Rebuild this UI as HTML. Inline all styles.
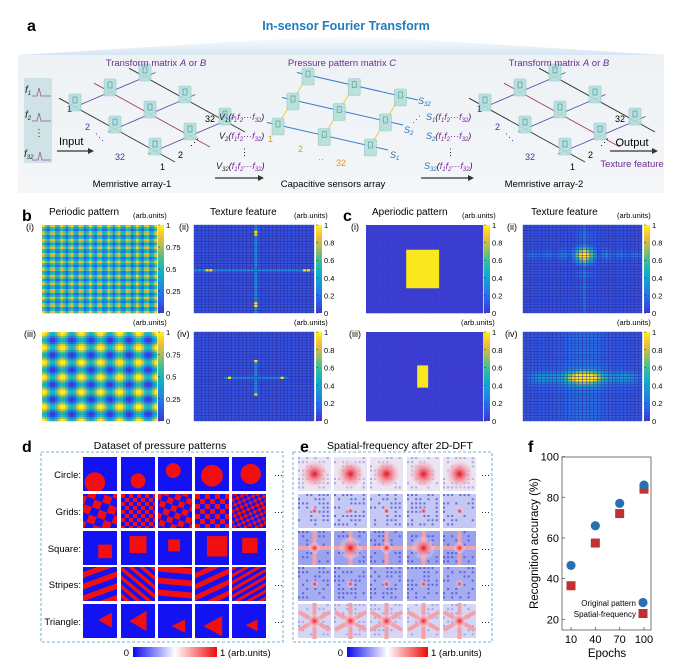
<!DOCTYPE html>
<html><head><meta charset="utf-8"><style>
html,body{margin:0;padding:0;background:#fff;}
svg{display:block;font-family:"Liberation Sans",Arial,sans-serif;}
</style></head><body>
<svg id="fig" width="683" height="669" viewBox="0 0 683 669" xmlns="http://www.w3.org/2000/svg">
<defs>
<linearGradient id="gbox" x1="0" y1="0" x2="0" y2="1"><stop offset="0" stop-color="#eef2f5"/><stop offset="1" stop-color="#f4f6f8"/></linearGradient>
<linearGradient id="gtri" x1="0" y1="0" x2="0" y2="1"><stop offset="0" stop-color="#ffffff"/><stop offset="1" stop-color="#d6e6f2"/></linearGradient>
<linearGradient id="parV" x1="0" y1="1" x2="0" y2="0">
<stop offset="0" stop-color="rgb(62,55,205)"/><stop offset="0.15" stop-color="rgb(40,100,235)"/><stop offset="0.3" stop-color="rgb(30,140,220)"/><stop offset="0.45" stop-color="rgb(15,175,200)"/><stop offset="0.6" stop-color="rgb(60,190,150)"/><stop offset="0.75" stop-color="rgb(170,190,90)"/><stop offset="0.87" stop-color="rgb(245,190,55)"/><stop offset="1" stop-color="rgb(250,245,20)"/>
</linearGradient>
<linearGradient id="bwr" x1="0" y1="0" x2="1" y2="0"><stop offset="0" stop-color="#0a0af0"/><stop offset="0.5" stop-color="#ffffff"/><stop offset="1" stop-color="#f00a0a"/></linearGradient>
<radialGradient id="redc"><stop offset="0" stop-color="#e8101a"/><stop offset="0.25" stop-color="#f06070" stop-opacity="0.9"/><stop offset="0.7" stop-color="#f8c0c8" stop-opacity="0.5"/><stop offset="1" stop-color="#ffffff" stop-opacity="0"/></radialGradient>
</defs>

<!-- Panel a -->
<g>
<text x="27" y="31" font-size="16" font-weight="bold">a</text>
<polygon points="346,35 18,55 664,55" fill="url(#gtri)"/>
<text x="346" y="30" font-size="12.5" font-weight="bold" fill="#1f7cc0" text-anchor="middle">In-sensor Fourier Transform</text>
<rect x="18" y="55" width="646" height="138" fill="url(#gbox)"/>
<rect x="24" y="78" width="28" height="85" fill="#cfe3e6"/>
<g font-size="10" font-style="italic" fill="#222">
<text x="25" y="93">f<tspan font-size="6" dy="2">1</tspan></text>
<text x="25" y="118">f<tspan font-size="6" dy="2">2</tspan></text>
<text x="34" y="136" font-style="normal">⋮</text>
<text x="24" y="157">f<tspan font-size="6" dy="2">32</tspan></text>
</g>
<g stroke="#8a5a9a" fill="none" stroke-width="0.8">
<path d="M32,96 h5 l2,-8 l2,8 h10"/><path d="M32,121 h5 l2,-8 l2,8 h10"/><path d="M32,160 h6 l2,-8 l2,8 h9"/>
</g>
<text x="59" y="145" font-size="11">Input</text>
<line x1="57" y1="151" x2="90" y2="151" stroke="#333" stroke-width="1.2"/><polygon points="94,151 88,148 88,154" fill="#333"/>
<g id="arrays"></g>
<text x="156" y="66" font-size="9.5" fill="#6a2c91" text-anchor="middle">Transform matrix <tspan font-style="italic">A</tspan> or <tspan font-style="italic">B</tspan></text>
<text x="342" y="66" font-size="9.5" fill="#6a2c91" text-anchor="middle">Pressure pattern matrix <tspan font-style="italic">C</tspan></text>
<text x="559" y="66" font-size="9.5" fill="#6a2c91" text-anchor="middle">Transform matrix <tspan font-style="italic">A</tspan> or <tspan font-style="italic">B</tspan></text>
<text x="132" y="187" font-size="9.5" text-anchor="middle">Memristive array-1</text>
<text x="333" y="187" font-size="9.5" text-anchor="middle">Capacitive sensors array</text>
<text x="544" y="187" font-size="9.5" text-anchor="middle">Memristive array-2</text>
<g font-size="9" font-style="italic" fill="#222">
<text x="219" y="120">V<tspan font-size="6" dy="2">1</tspan><tspan dy="-2">(</tspan><tspan fill="#7a2a9a">f</tspan><tspan fill="#7a2a9a" font-size="6" dy="2">1</tspan><tspan fill="#7a2a9a" dy="-2">f</tspan><tspan fill="#7a2a9a" font-size="6" dy="2">2</tspan><tspan fill="#7a2a9a" dy="-2">···f</tspan><tspan fill="#7a2a9a" font-size="6" dy="2">32</tspan><tspan dy="-2">)</tspan></text>
<text x="219" y="139">V<tspan font-size="6" dy="2">2</tspan><tspan dy="-2">(</tspan><tspan fill="#7a2a9a">f</tspan><tspan fill="#7a2a9a" font-size="6" dy="2">1</tspan><tspan fill="#7a2a9a" dy="-2">f</tspan><tspan fill="#7a2a9a" font-size="6" dy="2">2</tspan><tspan fill="#7a2a9a" dy="-2">···f</tspan><tspan fill="#7a2a9a" font-size="6" dy="2">32</tspan><tspan dy="-2">)</tspan></text>
<text x="240" y="155" font-style="normal">⋮</text>
<text x="216" y="169">V<tspan font-size="6" dy="2">32</tspan><tspan dy="-2">(</tspan><tspan fill="#7a2a9a">f</tspan><tspan fill="#7a2a9a" font-size="6" dy="2">1</tspan><tspan fill="#7a2a9a" dy="-2">f</tspan><tspan fill="#7a2a9a" font-size="6" dy="2">2</tspan><tspan fill="#7a2a9a" dy="-2">···f</tspan><tspan fill="#7a2a9a" font-size="6" dy="2">32</tspan><tspan dy="-2">)</tspan></text>
<g fill="#1f6fb5">
<text x="426" y="120">S<tspan font-size="6" dy="2">1</tspan><tspan dy="-2" fill="#222">(</tspan><tspan fill="#7a2a9a">f</tspan><tspan fill="#7a2a9a" font-size="6" dy="2">1</tspan><tspan fill="#7a2a9a" dy="-2">f</tspan><tspan fill="#7a2a9a" font-size="6" dy="2">2</tspan><tspan fill="#7a2a9a" dy="-2">···f</tspan><tspan fill="#7a2a9a" font-size="6" dy="2">32</tspan><tspan dy="-2" fill="#222">)</tspan></text>
<text x="426" y="139">S<tspan font-size="6" dy="2">2</tspan><tspan dy="-2" fill="#222">(</tspan><tspan fill="#7a2a9a">f</tspan><tspan fill="#7a2a9a" font-size="6" dy="2">1</tspan><tspan fill="#7a2a9a" dy="-2">f</tspan><tspan fill="#7a2a9a" font-size="6" dy="2">2</tspan><tspan fill="#7a2a9a" dy="-2">···f</tspan><tspan fill="#7a2a9a" font-size="6" dy="2">32</tspan><tspan dy="-2" fill="#222">)</tspan></text>
<text x="446" y="155" font-style="normal" fill="#222">⋮</text>
<text x="424" y="169">S<tspan font-size="6" dy="2">32</tspan><tspan dy="-2" fill="#222">(</tspan><tspan fill="#7a2a9a">f</tspan><tspan fill="#7a2a9a" font-size="6" dy="2">1</tspan><tspan fill="#7a2a9a" dy="-2">f</tspan><tspan fill="#7a2a9a" font-size="6" dy="2">2</tspan><tspan fill="#7a2a9a" dy="-2">···f</tspan><tspan fill="#7a2a9a" font-size="6" dy="2">32</tspan><tspan dy="-2" fill="#222">)</tspan></text>
</g>
</g>
<line x1="215" y1="178" x2="259" y2="178" stroke="#333" stroke-width="1.2"/><polygon points="264,178 258,175 258,181" fill="#333"/>
<line x1="421" y1="178" x2="469" y2="178" stroke="#333" stroke-width="1.2"/><polygon points="474,178 468,175 468,181" fill="#333"/>
<text x="632" y="146" font-size="11" text-anchor="middle">Output</text>
<line x1="610" y1="151" x2="652" y2="151" stroke="#333" stroke-width="1.2"/><polygon points="658,151 652,148 652,154" fill="#333"/>
<text x="632" y="167" font-size="9.5" fill="#6a2c91" text-anchor="middle">Texture feature</text>
</g>

<!-- Panel b/c -->
<g id="bc"></g>

<!-- Panel d/e -->
<g id="de"></g>

<!-- Panel f -->
<g id="pf"></g>
</svg>
<script>
// ---- Panel f data ----
const epochs = [10, 40, 70, 100];
const originalAcc = [46.5, 66, 77, 86];
const spatialAcc = [36.5, 57.5, 72, 84];
const yTicks = [20, 40, 60, 80, 100];
const xTickLabels = ['10', '40', '70', '100'];

const NS = 'http://www.w3.org/2000/svg';
function mk(tag, attrs, parent) {
  const e = document.createElementNS(NS, tag);
  for (const k in attrs) e.setAttribute(k, attrs[k]);
  if (parent) parent.appendChild(e);
  return e;
}
function txt(parent, x, y, s, size, anchor, extra) {
  const t = mk('text', Object.assign({x: x, y: y, 'font-size': size, 'text-anchor': anchor || 'start'}, extra || {}), parent);
  t.textContent = s;
  return t;
}

// ---- colormap ----
const stops = [[0,62,55,205],[0.15,40,100,235],[0.3,30,140,220],[0.45,15,175,200],[0.6,60,190,150],[0.75,170,190,90],[0.87,245,190,55],[1,250,245,20]];
function parula(v) {
  v = Math.max(0, Math.min(1, v));
  for (let i = 1; i < stops.length; i++) {
    if (v <= stops[i][0]) {
      const a = stops[i-1], b = stops[i], t = (v - a[0]) / (b[0] - a[0]);
      return 'rgb(' + Math.round(a[1]+(b[1]-a[1])*t) + ',' + Math.round(a[2]+(b[2]-a[2])*t) + ',' + Math.round(a[3]+(b[3]-a[3])*t) + ')';
    }
  }
  return 'rgb(250,245,20)';
}

// ---- heatmaps ----
const bc = document.getElementById('bc');
function heatmap(name, x, y, w, h, n, fn, grid) {
  const g = mk('g', {}, bc);
  
  
  const cw = w / n, ch = h / n;
  for (let i = 0; i < n; i++) for (let j = 0; j < n; j++) {
    const r = mk('rect', {x: (x + i*cw).toFixed(2), y: (y + j*ch).toFixed(2), width: (cw + (grid ? 0 : 0.3)).toFixed(2), height: (ch + (grid ? 0 : 0.3)).toFixed(2), fill: parula(fn(i, j, n))}, g);
    if (grid) { r.setAttribute('stroke', 'rgb(40,40,150)'); r.setAttribute('stroke-width', '0.35'); }
  }
  return g;
}
function colorbar(name, x, y, h, ticks) {
  const g = mk('g', {}, bc);
  
  
  mk('rect', {x: x, y: y, width: 6, height: h, fill: 'url(#parV)'}, g);
  ticks.forEach(t => {
    const ty = y + h - t * h;
    mk('line', {x1: x, x2: x + 2, y1: ty, y2: ty, stroke: '#333', 'stroke-width': 0.5}, g);
    txt(g, x + 8, ty + 3, String(t), 7.5);
  });
}
function label(s, x, y, size, extra) { const t = txt(bc, x, y, s, size, 'start', extra); return t; }

const bTicks = [0, 0.25, 0.5, 0.75, 1];
const cTicks = [0, 0.2, 0.4, 0.6, 0.8, 1];

let t;
t = label('b', 22, 221, 16, {'font-weight': 'bold'});  
t = label('Periodic pattern', 49, 215, 10);  
t = label('Texture feature', 210, 215, 10);  
t = label('c', 343, 221, 16, {'font-weight': 'bold'});  
t = label('Aperiodic pattern', 372, 215, 10);  
t = label('Texture feature', 531, 215, 10);  
[['(arb.units)',133,218],['(arb.units)',294,218],['(arb.units)',133,325],['(arb.units)',294,325],['(arb.units)',462,218],['(arb.units)',617,218],['(arb.units)',461,325],['(arb.units)',617,325]].forEach(a => { const e = label(a[0], a[1], a[2], 7.5);   });
[['(i)',26,230],['(ii)',179,230],['(iii)',24,337],['(iv)',177,337],['(i)',351,230],['(ii)',507,230],['(iii)',349,337],['(iv)',505,337]].forEach(a => { const e = label(a[0], a[1], a[2], 9);   });

const B1 = [42, 225, 115, 88], B2 = [194, 225, 120, 88];
const B3 = [42, 332, 115, 89], B4 = [194, 332, 120, 89];
const C1 = [366, 225, 117, 88], C2 = [523, 225, 119, 88];
const C3 = [366, 332, 117, 89], C4 = [523, 332, 119, 89];

heatmap('periodic-pattern-i', B1[0], B1[1], B1[2], B1[3], 44, (i, j) => {
  const a = 0.5 + 0.5 * Math.cos(2 * Math.PI * i / 3.6), b = 0.5 + 0.5 * Math.cos(2 * Math.PI * j / 3.6);
  return 0.08 + 0.85 * (a * 0.5 + b * 0.5);
}, false);
heatmap('texture-feature-ii', B2[0], B2[1], B2[2], B2[3], 32, (i, j) => {
  let v = 0.08;
  if (i === 16 || j === 16) v = 0.3;
  if (i === 16 && (j === 2 || j === 3 || j === 28 || j === 29)) v = 0.95;
  if (j === 16 && (i === 3 || i === 4 || i === 29 || i === 30)) v = 0.95;
  return v;
}, true);
heatmap('periodic-pattern-iii', B3[0], B3[1], B3[2], B3[3], 44, (i, j) => {
  const a = Math.cos(2 * Math.PI * i / 7.3), b = Math.cos(2 * Math.PI * j / 7.3);
  return 0.5 + 0.28 * (a + b);
}, false);
heatmap('texture-feature-iv', B4[0], B4[1], B4[2], B4[3], 32, (i, j) => {
  let v = 0.08;
  if (i === 16 && j > 9 && j < 23) v = 0.3;
  if (j === 16 && i > 7 && i < 25) v = 0.25;
  if (i === 16 && (j === 10 || j === 22)) v = 0.95;
  if (j === 16 && (i === 9 || i === 23)) v = 0.95;
  return v;
}, true);
heatmap('aperiodic-pattern-i', C1[0], C1[1], C1[2], C1[3], 32, (i, j) => (i >= 11 && i <= 19 && j >= 9 && j <= 22) ? 0.97 : 0.02, false);
heatmap('texture-feature-c-ii', C2[0], C2[1], C2[2], C2[3], 32, (i, j) => {
  const dx = (i - 16), dy = (j - 10.5);
  let v = 0.08;
  const sx = Math.abs(Math.sin(dx * 0.8 + 1e-6) / (dx * 0.8 + 1e-6)), sy = Math.abs(Math.sin(dy * 0.65 + 1e-6) / (dy * 0.65 + 1e-6));
  v += 0.9 * Math.pow(sx * sy, 1.4);
  if (Math.abs(dy) < 1) v += 0.12 * (1 - Math.abs(Math.cos(dx * 0.8)) * 0.5);
  if (Math.abs(dx) < 1) v += 0.1;
  return v;
}, true);
heatmap('aperiodic-pattern-iii', C3[0], C3[1], C3[2], C3[3], 32, (i, j) => (i >= 14 && i <= 16 && j >= 12 && j <= 19) ? 0.97 : 0.02, false);
heatmap('texture-feature-c-iv', C4[0], C4[1], C4[2], C4[3], 32, (i, j) => {
  const dx = (i - 16) / 5.5, dy = (j - 16) / 2.2;
  let v = 0.1 + 0.85 * Math.exp(-(dx * dx + dy * dy) / 1.2);
  v += 0.25 * Math.exp(-dy * dy) * (0.5 + 0.5 * Math.cos((i - 16) * 0.55));
  v += 0.1 * Math.exp(-((i - 16) * (i - 16)) / 30);
  return Math.min(v, 0.97);
}, true);
colorbar('colorbar-b-i', 158, 225, 88, bTicks);
colorbar('colorbar-b-ii', 316, 225, 88, cTicks);
colorbar('colorbar-b-iii', 158, 332, 89, bTicks);
colorbar('colorbar-b-iv', 316, 332, 89, cTicks);
colorbar('colorbar-c-i', 484, 225, 88, cTicks);
colorbar('colorbar-c-ii', 644, 225, 88, cTicks);
colorbar('colorbar-c-iii', 484, 332, 89, cTicks);
colorbar('colorbar-c-iv', 644, 332, 89, cTicks);

// ---- arrays in panel a ----
const arr = document.getElementById('arrays');
function cube(x, y, g, icon) {
  mk('rect', {x: x - 6, y: y - 9, width: 12, height: 17, rx: 1.5, fill: '#b5e0dc', stroke: '#8cc4c0', 'stroke-width': 0.6, opacity: 0.9}, g);
  mk('rect', {x: x - 2, y: y - 6, width: 4, height: 6, fill: 'none', stroke: icon, 'stroke-width': 0.6}, g);
}
function crossbar(name, ox, oy, rowColor, colColors, cubeIcon) {
  const g = mk('g', {}, arr);
  
  
  const P = (u, v) => [ox + u * 70 + v * 40, oy - u * 30 + v * 22];
  for (let v = 0; v < 3; v++) { const a = P(-0.1, v), b = P(1.15, v); mk('line', {x1: a[0], y1: a[1], x2: b[0], y2: b[1], stroke: rowColor, 'stroke-width': 0.9}, g); }
  for (let u = 0; u < 3; u++) { const a = P(u * 0.5, -0.4), b = P(u * 0.5, 2.5); mk('line', {x1: a[0], y1: a[1], x2: b[0], y2: b[1], stroke: colColors[u], 'stroke-width': 0.9}, g); }
  for (let v = 0; v < 3; v++) for (let u = 0; u < 3; u++) { const p = P(u * 0.5, v); cube(p[0], p[1] - 4, g, cubeIcon); }
  return g;
}
const g1 = crossbar('memristive-array-1', 75, 107, '#5a4fb0', ['#333', '#a04060', '#333'], '#3a8aa8');
const g2 = crossbar('memristive-array-2', 485, 107, '#5a4fb0', ['#333', '#a04060', '#333'], '#3a8aa8');
[[g1, 75], [g2, 485]].forEach(p => {
  const g = p[0], ox = p[1];
  txt(g, ox - 8, 112, '1', 9, 'start', {fill: '#3a3a9a'});
  txt(g, ox + 10, 130, '2', 9, 'start', {fill: '#3a3a9a'});
  txt(g, ox + 40, 160, '32', 9, 'start', {fill: '#3a3a9a'});
  txt(g, ox + 20, 140, '⋱', 9, 'start', {fill: '#3a3a9a'});
  txt(g, ox + 130, 122, '32', 9);
  txt(g, ox + 103, 158, '2', 9);
  txt(g, ox + 85, 170, '1', 9);
  txt(g, ox + 115, 145, '⋰', 9);
});
(function () {
  const g = mk('g', {}, arr);
  
  
  const P = (u, v) => [278 + u * 110 + v * 15, 125 + u * 25 - v * 25];
  for (let v = 0; v < 3; v++) { const a = P(-0.1, v), b = P(1.0, v); mk('line', {x1: a[0], y1: a[1], x2: b[0], y2: b[1], stroke: '#3a7ccc', 'stroke-width': 1}, g); }
  for (let u = 0; u < 3; u++) { const a = P(u * 0.42, -0.4), b = P(u * 0.42, 2.2); mk('line', {x1: a[0], y1: a[1], x2: b[0], y2: b[1], stroke: '#e8d020', 'stroke-width': 0.9}, g); }
  for (let v = 0; v < 3; v++) for (let u = 0; u < 3; u++) { const p = P(u * 0.42, v); cube(p[0], p[1] + 2, g, '#4a9a8a'); }
  const s1 = txt(g, 390, 158, 'S', 9, 'start', {fill: '#1f6fb5', 'font-style': 'italic'}); mk('tspan', {'font-size': 6, dy: 2}, s1).textContent = '1';
  const s2 = txt(g, 404, 133, 'S', 9, 'start', {fill: '#1f6fb5', 'font-style': 'italic'}); mk('tspan', {'font-size': 6, dy: 2}, s2).textContent = '2';
  const s3 = txt(g, 418, 104, 'S', 9, 'start', {fill: '#1f6fb5', 'font-style': 'italic'}); mk('tspan', {'font-size': 6, dy: 2}, s3).textContent = '32';
  txt(g, 412, 122, '⋰', 9, 'start', {fill: '#1f6fb5'});
  txt(g, 268, 142, '1', 9, 'start', {fill: '#e09a20'});
  txt(g, 298, 152, '2', 9, 'start', {fill: '#e09a20'});
  txt(g, 336, 166, '32', 9, 'start', {fill: '#e09a20'});
  txt(g, 318, 162, '··', 9, 'start', {fill: '#e09a20'});
})();

// ---- panels d & e ----
const de = document.getElementById('de');
const rowNames = ['Circle:', 'Grids:', 'Square:', 'Stripes:', 'Triangle:'];
const rowTops = [457, 494, 531, 567, 604];
const dCols = [83, 121, 158, 195, 232];
const eCols = [298, 334, 370, 407, 443];
const TS = 34;
t = txt(de, 22, 452, 'd', 16, 'start', {'font-weight': 'bold'});  
t = txt(de, 160, 449, 'Dataset of pressure patterns', 10.5, 'middle');  
t = txt(de, 300, 452, 'e', 16, 'start', {'font-weight': 'bold'});  
t = txt(de, 400, 449, 'Spatial-frequency after 2D-DFT', 10.5, 'middle');  
const boxD = mk('rect', {x: 41, y: 452, width: 242, height: 190, fill: 'none', stroke: '#4a9ac8', 'stroke-dasharray': '3,2', 'stroke-width': 0.8}, de);
 
const boxE = mk('rect', {x: 293, y: 452, width: 199, height: 190, fill: 'none', stroke: '#4a9ac8', 'stroke-dasharray': '3,2', 'stroke-width': 0.8}, de);
 

const circles = [[0.35, 0.75, 0.3], [0.5, 0.7, 0.22], [0.45, 0.4, 0.22], [0.5, 0.55, 0.32], [0.55, 0.5, 0.3]];
const squares = [[0.45, 0.4, 0.4], [0.25, 0.15, 0.5], [0.3, 0.25, 0.35], [0.35, 0.15, 0.6], [0.3, 0.2, 0.45]];
const tris = [[0.45, 0.25, 0.85, 0.7], [0.25, 0.2, 0.75, 0.8], [0.4, 0.45, 0.8, 0.85], [0.25, 0.35, 0.8, 0.95], [0.4, 0.45, 0.75, 0.8]];
const gridPer = [8, 4, 6, 5, 3.5];
const stripeAng = [-20, 40, 5, -25, -30];
const stripePer = [11, 7, 12, 10, 6];
rowNames.forEach((nm, r) => {
  const y = rowTops[r];
  const l = txt(de, 81, y + 21, nm, 9.5, 'end');  
  txt(de, 274, y + 21, '···', 9, 'start');
  txt(de, 481, y + 21, '···', 9, 'start');
  dCols.forEach((x, c) => {
    const g = mk('g', {}, de);
    
    
    const cp = mk('clipPath', {id: 'cd' + r + c}, g);
    mk('rect', {x: x, y: y, width: TS, height: TS}, cp);
    const inner = mk('g', {'clip-path': 'url(#cd' + r + c + ')'}, g);
    mk('rect', {x: x, y: y, width: TS, height: TS, fill: '#1212f2'}, inner);
    if (r === 0) { const p = circles[c]; mk('circle', {cx: x + p[0] * TS, cy: y + p[1] * TS, r: p[2] * TS, fill: '#f20f12'}, inner); }
    if (r === 1) { const s = gridPer[c];
      for (let i = -2; i * s < TS + s; i++) for (let j = -2; j * s < TS + s; j++) if ((i + j + 4) % 2 === 0) mk('rect', {x: x + i * s, y: y + j * s, width: s, height: s, fill: '#f20f12', transform: 'rotate(' + (c % 2 ? 0 : 20) + ' ' + (x + 17) + ' ' + (y + 17) + ')'}, inner);
    }
    if (r === 2) { const p = squares[c]; mk('rect', {x: x + p[0] * TS, y: y + p[1] * TS, width: p[2] * TS, height: p[2] * TS, fill: '#f20f12'}, inner); }
    if (r === 3) { const s = stripePer[c];
      for (let k = -6; k < 10; k++) mk('rect', {x: x - 20, y: y + k * s, width: TS + 40, height: s / 2, fill: '#f20f12', transform: 'rotate(' + stripeAng[c] + ' ' + (x + 17) + ' ' + (y + 17) + ')'}, inner);
    }
    if (r === 4) { const p = tris[c];
      mk('polygon', {points: (x + p[0] * TS) + ',' + (y + (p[1] + p[3]) / 2 * TS) + ' ' + (x + p[2] * TS) + ',' + (y + p[1] * TS) + ' ' + (x + p[2] * TS) + ',' + (y + p[3] * TS), fill: '#f20f12'}, inner);
    }
  });
  eCols.forEach((x, c) => {
    const g = mk('g', {}, de);
    
    
    const bg = ['#e8e4f4', '#c4c8f2', '#9aa2ee', '#a6acf0', '#d6d6f4'][r];
    mk('rect', {x: x, y: y, width: TS - 1, height: TS, fill: bg}, g);
    for (let i = 0; i < 8; i++) for (let j = 0; j < 8; j++) {
      const h = Math.abs(Math.sin((i * 12.9898 + j * 78.233 + c * 3.1 + r * 7.7)) * 43758.5453) % 1;
      if (h < 0.45) mk('rect', {x: x + i * 4.1, y: y + j * 4.2, width: 2, height: 2, fill: r === 0 || r === 4 ? '#8a90e8' : '#3a44dc', opacity: 0.7}, g);
    }
    const cx = x + 16.5, cy = y + 17;
    if (r === 0) mk('circle', {cx: cx, cy: cy, r: 16, fill: 'url(#redc)'}, g);
    if (r === 2) { mk('rect', {x: x, y: cy - 2, width: TS - 1, height: 4, fill: '#f3a0a8'}, g); mk('rect', {x: cx - 2, y: y, width: 4, height: TS, fill: '#f3a0a8'}, g); mk('circle', {cx: cx, cy: cy, r: c % 2 ? 12 : 6, fill: 'url(#redc)'}, g); }
    if (r === 4) { [0, 60, 120].forEach(a => mk('rect', {x: cx - 18, y: cy - 2, width: 36, height: 4, fill: '#f3a0a8', transform: 'rotate(' + (a + 90) + ' ' + cx + ' ' + cy + ')'}, g)); mk('circle', {cx: cx, cy: cy, r: 7, fill: 'url(#redc)'}, g); }
    if (r === 1 || r === 3) mk('circle', {cx: cx, cy: cy, r: 4, fill: 'url(#redc)'}, g);
  });
});
function bwrBar(name, x, y, w) {
  const g = mk('g', {}, de);
  
  
  mk('rect', {x: x, y: y, width: w, height: 10, fill: 'url(#bwr)'}, g);
  txt(g, x - 4, y + 9, '0', 9.5, 'end');
  txt(g, x + w + 3, y + 9, '1  (arb.units)', 9.5, 'start');
}
bwrBar('colorbar-d', 133, 647, 84);
bwrBar('colorbar-e', 347, 647, 81);

// ---- panel f chart ----
const pf = document.getElementById('pf');
const PL = 562, PR = 651, PT = 457, PB = 630;
const xs = v => 571 + (v - 10) / 90 * (644 - 571);
const ys = v => 619.3 - (v - 20) * (619.3 - 497.3) / 60;
t = txt(pf, 528, 452, 'f', 16, 'start', {'font-weight': 'bold'});  
const frame = mk('rect', {x: PL, y: PT, width: PR - PL, height: PB - PT, fill: 'none', stroke: '#555', 'stroke-width': 0.8}, pf);
 
yTicks.forEach(v => {
  mk('line', {x1: PL, x2: PL + 3, y1: ys(v), y2: ys(v), stroke: '#555', 'stroke-width': 0.8}, pf);
  const l = txt(pf, PL - 3, ys(v) + 4, String(v), 11, 'end');
   
});
epochs.forEach((e, i) => {
  mk('line', {x1: xs(e), x2: xs(e), y1: PB, y2: PB - 3, stroke: '#555', 'stroke-width': 0.8}, pf);
  const l = txt(pf, xs(e), PB + 13, xTickLabels[i], 11, 'middle');
   
});
t = txt(pf, 607, 657, 'Epochs', 11.5, 'middle');  
t = txt(pf, 0, 0, 'Recognition accuracy (%)', 11.5, 'middle', {transform: 'translate(538,' + ((PT + PB) / 2) + ') rotate(-90)'});  
spatialAcc.forEach((v, i) => {
  const s = mk('rect', {x: xs(epochs[i]) - 4.5, y: ys(v) - 4.5, width: 9, height: 9, fill: '#c0312f'}, pf);
   
});
originalAcc.forEach((v, i) => {
  const c = mk('circle', {cx: xs(epochs[i]), cy: ys(v), r: 4.6, fill: '#2a70b0'}, pf);
   
});
const lg = mk('g', {}, pf);


txt(lg, 636, 606, 'Original pattern', 8, 'end');
mk('circle', {cx: 643, cy: 602.5, r: 4.6, fill: '#2a70b0'}, lg);
txt(lg, 636, 617, 'Spatial-frequency', 8, 'end');
mk('rect', {x: 638.5, y: 609, width: 9, height: 9, fill: '#c0312f'}, lg);
</script>
</body></html>
